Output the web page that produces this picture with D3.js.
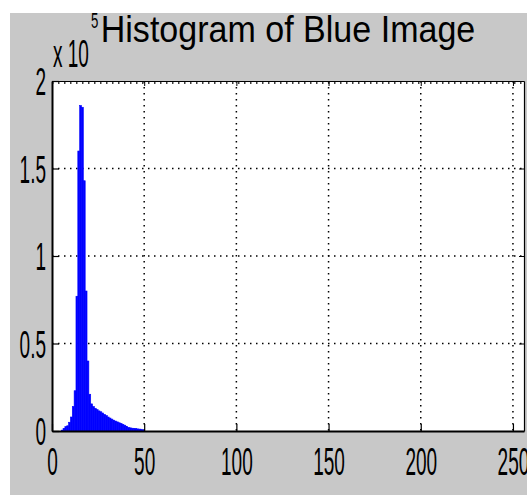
<!DOCTYPE html>
<html>
<head>
<meta charset="utf-8">
<script src="https://cdn.jsdelivr.net/npm/d3@7"></script>
<style>
  html, body { margin: 0; padding: 0; background: #ffffff; }
  svg { display: block; }
  text { font-family: "Liberation Sans", Arial, sans-serif; fill: #000; }
</style>
</head>
<body>
<div id="chart"></div>
<script>
// ---- data (counts in units of 10^5, bins 0..49; all other bins are 0) ----
const binStart = 0;
const counts = [
  0, 0, 0, 0, 0, 0.005, 0.015, 0.025, 0.03, 0.05,
  0.08, 0.14, 0.23, 0.77, 1.6, 1.86, 1.85, 1.43, 0.8, 0.40,
  0.21, 0.155, 0.14, 0.13, 0.122, 0.115, 0.11, 0.103, 0.095, 0.088,
  0.08, 0.074, 0.068, 0.062, 0.057, 0.052, 0.047, 0.043, 0.038, 0.033,
  0.027, 0.021, 0.018, 0.016, 0.015, 0.014, 0.012, 0.011, 0.01, 0.006
];
const xTicks = [0, 50, 100, 150, 200, 250];
const yTicks = [0, 0.5, 1, 1.5, 2];
const yTickLabels = ["0", "0.5", "1", "1.5", "2"];
const titleText = "Histogram of Blue Image";
const multiplierText = "x 10";
const exponentText = "5";

// ---- layout ----
const W = 527, H = 495;
const L = 52, T = 81, R = 524, B = 431;

const svg = d3.select("#chart").append("svg").attr("width", W).attr("height", H);

// figure background
svg.append("rect").attr("x", 10).attr("y", 13).attr("width", W - 10).attr("height", H - 13).attr("fill", "#c8c8c8");
// axes background
svg.append("rect").attr("x", L).attr("y", T).attr("width", R - L).attr("height", B - T).attr("fill", "#ffffff");

const x = d3.scaleLinear().domain([0, 256]).range([L, R]);
const y = d3.scaleLinear().domain([0, 2]).range([B, T]);

// grid (dotted)
const grid = svg.append("g").attr("stroke", "#000").attr("stroke-width", 1.5).attr("stroke-dasharray", "1.5,4.5");
grid.selectAll("line.gx").data(xTicks.filter(d => d > 0)).join("line")
  .attr("x1", d => x(d)).attr("x2", d => x(d)).attr("y1", T).attr("y2", B);
grid.selectAll("line.gy").data(yTicks.filter(d => d > 0)).join("line")
  .attr("x1", L).attr("x2", R).attr("y1", d => y(d) + (d === 2 ? 2 : 0)).attr("y2", d => y(d) + (d === 2 ? 2 : 0));

// histogram bars
svg.append("g").attr("fill", "#0000ff").attr("stroke", "#0000ff").attr("stroke-width", 0.6)
  .selectAll("rect").data(counts.map((v, i) => ({bin: binStart + i, v})).filter(d => d.v > 0)).join("rect")
  .attr("x", d => x(d.bin))
  .attr("width", d => x(d.bin + 1) - x(d.bin))
  .attr("y", d => y(d.v))
  .attr("height", d => y(0) - y(d.v));

const sx = 0.5; // horizontal compression of the tick font
const fs = 38;

// bottom axis
const gx = svg.append("g").attr("transform", `translate(0,${B})`)
  .call(d3.axisBottom(x).tickValues(xTicks).tickFormat(d3.format("d")).tickSizeInner(-7).tickSizeOuter(0).tickPadding(17));
gx.select(".domain").attr("stroke-width", 2);
gx.selectAll(".tick line").attr("stroke-width", 1.2);
gx.selectAll("text").attr("font-size", fs).attr("font-family", "Liberation Sans, Arial, sans-serif")
  .attr("transform", `scale(${sx},1)`);

// left axis
const gy = svg.append("g").attr("transform", `translate(${L},0)`)
  .call(d3.axisLeft(y).tickValues(yTicks).tickFormat((d, i) => yTickLabels[i]).tickSizeInner(-7).tickSizeOuter(0).tickPadding(6));
gy.select(".domain").attr("stroke-width", 2);
gy.selectAll(".tick line").attr("stroke-width", 1.2);
gy.selectAll("text").attr("font-size", fs).attr("font-family", "Liberation Sans, Arial, sans-serif")
  .attr("x", -6 / sx).attr("dy", "0.36em")
  .attr("transform", `scale(${sx},1)`);

// top and right box axes (ticks only)
const gt = svg.append("g").attr("transform", `translate(0,${T})`)
  .call(d3.axisTop(x).tickValues(xTicks).tickFormat("").tickSizeInner(-5).tickSizeOuter(0));
gt.select(".domain").attr("stroke-width", 1.2);
const gr = svg.append("g").attr("transform", `translate(${R},0)`)
  .call(d3.axisRight(y).tickValues(yTicks).tickFormat("").tickSizeInner(-5).tickSizeOuter(0));
gr.select(".domain").attr("stroke-width", 1.2);

// multiplier label "x 10^5"
svg.append("text").attr("transform", `translate(53,67) scale(${sx},1)`)
  .attr("font-size", fs).text(multiplierText);
svg.append("text").attr("transform", `translate(91,28) scale(0.6,1)`)
  .attr("font-size", 22).text(exponentText);

// title
svg.append("text").attr("transform", "translate(288,42) scale(0.92,1)")
  .attr("text-anchor", "middle").attr("font-size", 37).text(titleText);
</script>
</body>
</html>
